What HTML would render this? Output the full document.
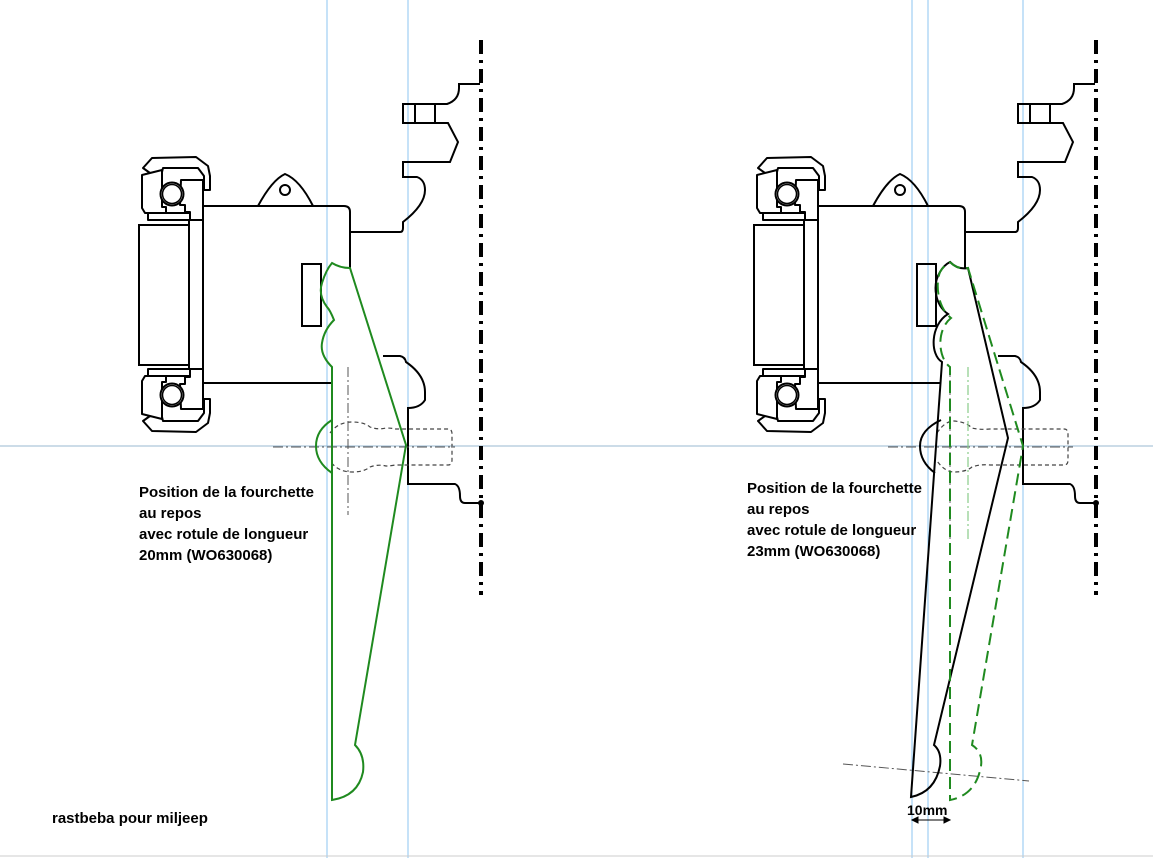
<!DOCTYPE html>
<html><head><meta charset="utf-8"><style>
html,body{margin:0;padding:0;background:#fff;}
svg{display:block;}
text{font-family:"Liberation Sans",sans-serif;font-weight:bold;font-size:15px;fill:#000;}
</style></head><body>
<svg width="1153" height="858" viewBox="0 0 1153 858" xmlns="http://www.w3.org/2000/svg">
<defs>
<g id="brg" fill="#fff" stroke="#000" stroke-width="2" stroke-linejoin="round">
  <path d="M143,168 L152,158 L196,157 L208,166 L210,176 L210,190 L204,190 L204,176 L198,168 L163,168 L162,172 L150,173 Z"/>
  <path d="M142,175 L162,170 L162,207 L166,207 L166,213 L145,213 L142,208 Z"/>
  <path d="M181,180 L203,180 L203,220 L190,220 L190,212 L185,212 L185,205 L180,205 Z"/>
  <path d="M148,213 L190,213 L190,220 L148,220 Z"/>
  <circle cx="172" cy="194" r="11.5"/>
  <circle cx="172" cy="194" r="9.5" stroke-width="1.5"/>
</g>
<g id="asm" fill="none" stroke="#000" stroke-width="2">
  <use href="#brg"/>
  <use href="#brg" transform="translate(0,589) scale(1,-1)"/>
  <rect x="139" y="225" width="50" height="140" fill="#fff"/>
  <line x1="189" y1="220" x2="189" y2="370"/>
  <line x1="203" y1="220" x2="203" y2="370"/>
  <path d="M203,206 L344,206 Q350,206 350,212 L350,268"/>
  <path d="M258,206 Q272,180 285,174 Q300,180 313,206"/>
  <circle cx="285" cy="190" r="5"/>
  <rect x="302" y="264" width="19" height="62"/>
  <path d="M350,232 L400,232 Q403,232 403,228 L403,222 Q425,205 425,190 Q425,180 417,177 L403,177 L403,162 L450,162 L458,142 L448,123 L403,123 L403,104 L447,104 Q459,100 459,88 L459,84 L480,84"/>
  <line x1="415" y1="104" x2="415" y2="123"/>
  <line x1="435" y1="104" x2="435" y2="123"/>
  <path d="M383,356 L400,356 Q405,357 406,362 Q425,375 425,392 L425,400 Q420,408 408,408 L408,484 L455,484 Q460,486 460,496 Q460,503 465,503 L481,503"/>
  <line x1="481" y1="40" x2="481" y2="595" stroke-width="4" stroke-dasharray="14 6 3 6"/>
  <circle cx="481" cy="503" r="3" fill="#000" stroke="none"/>
</g>
</defs>

<g stroke="#8cc4f0" stroke-width="1">
<line x1="327" y1="0" x2="327" y2="858"/>
<line x1="408" y1="0" x2="408" y2="858"/>
<line x1="912" y1="0" x2="912" y2="858"/>
<line x1="928" y1="0" x2="928" y2="858"/>
<line x1="1023" y1="0" x2="1023" y2="858"/>
<line x1="0" y1="446" x2="1153" y2="446" stroke="#9ab8d0"/>
</g>
<line x1="0" y1="856" x2="1153" y2="856" stroke="#ccc"/>

<use href="#asm"/>
<use href="#asm" transform="translate(615,0)"/>
<line x1="203" y1="383" x2="333" y2="383" stroke="#000" stroke-width="2"/>
<line x1="818" y1="383" x2="940" y2="383" stroke="#000" stroke-width="2"/>

<g fill="none" stroke="#444" stroke-width="1.2" stroke-dasharray="4 3">
<path d="M330,433 Q338,422 352,422 Q364,422 370,427 Q378,430 386,428 Q392,428 395,429 L448,429 Q452,429 452,434 L452,460 Q452,465 448,465 L395,465 Q390,466 386,466 Q378,464 370,467 Q364,472 352,472 Q338,472 330,461"/>
<path d="M937,433 Q945,421 954,421 Q966,422 972,428 Q980,430 990,429 L1064,429 Q1068,429 1068,434 L1068,460 Q1068,465 1064,465 L990,465 Q980,464 972,467 Q966,472 954,472 Q945,472 937,461"/>
</g>
<g stroke="#555" stroke-width="1" stroke-dasharray="10 3 2 3" fill="none">
<line x1="273" y1="447" x2="455" y2="447"/>
<line x1="348" y1="367" x2="348" y2="515"/>
<line x1="888" y1="447" x2="1073" y2="447"/>
<line x1="950" y1="367" x2="950" y2="540"/>
<line x1="843" y1="764" x2="1029" y2="781"/>
</g>
<line x1="968" y1="367" x2="968" y2="540" stroke="#8c8" stroke-width="1.2" stroke-dasharray="10 3 2 3"/>

<g fill="none" stroke="#1f8a1f" stroke-width="2">
<path d="M332,263 Q340,268 350,268 L406,445 L355,745 Q365,755 363,772 Q358,796 332,800 L332,367 Q320,355 322,343 Q324,330 334,320 Q330,310 327,307 Q318,295 322,283 Q326,270 332,263 Z"/>
<path d="M332,420 Q316,430 316,446 Q316,462 332,473"/>
</g>
<g fill="none" stroke="#000" stroke-width="2">
<path d="M950,262 Q958,270 968,268 L1008,438 L934,745 Q942,752 940,766 Q935,792 911,797 L942,362 C930,355 930,325 948,314 C935,305 932,285 940,272 Q944,265 950,262 Z"/>
<path d="M941,420 Q920,430 920,446 Q920,462 935,473"/>
</g>
<g fill="none" stroke="#1f8a1f" stroke-width="2" stroke-dasharray="12 6">
<path d="M950,262 Q958,270 968,268 L1023,446 L972,745 Q983,752 981,766 Q976,795 950,800 L950,367 C938,358 936,330 951,318 C938,308 935,285 940,272 Q944,265 950,262"/>
</g>

<g stroke="#000" stroke-width="1" fill="#000">
<line x1="912" y1="820" x2="950" y2="820"/>
<path d="M912,820 l6,-3 l0,6 Z"/><path d="M950,820 l-6,-3 l0,6 Z"/>
</g>
<text x="907" y="815" style="font-size:14px">10mm</text>

<text x="139" y="497">Position de la fourchette</text>
<text x="139" y="518">au repos</text>
<text x="139" y="539">avec rotule de longueur</text>
<text x="139" y="560">20mm (WO630068)</text>
<text x="747" y="493">Position de la fourchette</text>
<text x="747" y="514">au repos</text>
<text x="747" y="535">avec rotule de longueur</text>
<text x="747" y="556">23mm (WO630068)</text>
<text x="52" y="823">rastbeba pour miljeep</text>
</svg>
</body></html>
